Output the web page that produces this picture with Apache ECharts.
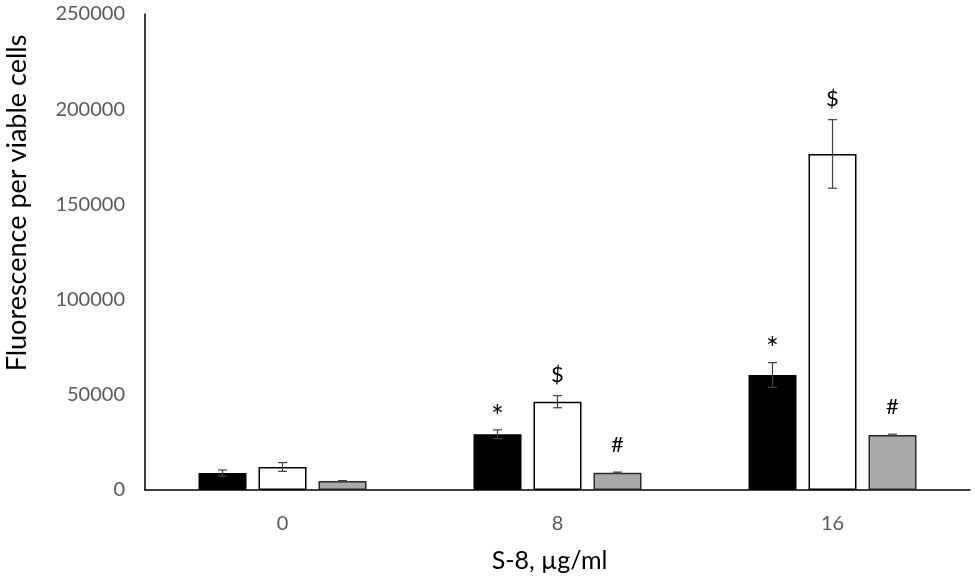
<!DOCTYPE html>
<html>
<head>
<meta charset="utf-8">
<title>S-8 fluorescence</title>
<script src="https://cdn.jsdelivr.net/npm/echarts@6/dist/echarts.min.js"></script>
<style>
	html, body { margin: 0; padding: 0; background: #fff; }
	#main { width: 975px; height: 579px; }
</style>
</head>
<body>
<div id="main"></div>
<script type="text/javascript">
	// data
	var categories = ['0', '8', '16'];
	var blackMeans = [8900, 29300, 60400];
	var blackErrs = [1600, 2300, 6500];
	var whiteMeans = [12100, 46400, 176500];
	var whiteErrs = [2300, 3200, 18000];
	var greyMeans = [4700, 9100, 28900];
	var greyErrs = [250, 300, 400];
	var blackMarks = ['', '*', '*'];
	var whiteMarks = ['', '$', '$'];
	var greyMarks = ['', '#', '#'];
	var yMax = 250000;
	var yStep = 50000;

	var FONT = 'Lato, "Open Sans", sans-serif';
	var BAR_W = 48;
	var BAR_GAP = 12;
	// how each sign is drawn above its error bar (font size, px above the cap)
	var markStyle = {
		'*': { size: 30, lift: 13 },
		'$': { size: 22, lift: 21 },
		'#': { size: 22, lift: 27 }
	};

	function barSeries(name, means, fill, border) {
		return {
			name: name,
			type: 'bar',
			data: means,
			barWidth: BAR_W,
			barGap: (BAR_GAP / BAR_W * 100) + '%',
			itemStyle: { color: fill, borderColor: border, borderWidth: 1.5 },
			emphasis: { disabled: true }
		};
	}

	// error bars + significance sign above each bar
	function errorSeries(means, errs, marks, offset) {
		return {
			type: 'custom',
			data: means.map(function (m, i) { return [i, m - errs[i], m + errs[i]]; }),
			encode: { x: 0, y: [1, 2] },
			z: 10,
			silent: true,
			renderItem: function (params, api) {
				var lo = api.coord([api.value(0), api.value(1)]);
				var hi = api.coord([api.value(0), api.value(2)]);
				var x = lo[0] + offset;
				var cap = 4.5;
				var st = { stroke: '#404040', lineWidth: 1.2 };
				var children = [
					{ type: 'line', shape: { x1: x, y1: lo[1], x2: x, y2: hi[1] }, style: st },
					{ type: 'line', shape: { x1: x - cap, y1: lo[1], x2: x + cap, y2: lo[1] }, style: st },
					{ type: 'line', shape: { x1: x - cap, y1: hi[1], x2: x + cap, y2: hi[1] }, style: st }
				];
				var mark = marks[params.dataIndex];
				if (mark) {
					var ms = markStyle[mark];
					children.push({
						type: 'text',
						style: {
							x: x, y: hi[1] - ms.lift, text: mark,
							fill: '#000', font: ms.size + 'px ' + FONT,
							textAlign: 'center', textVerticalAlign: 'middle'
						}
					});
				}
				return { type: 'group', children: children };
			}
		};
	}

	var myChart = echarts.init(document.getElementById('main'));
	var option = {
		animation: false,
		backgroundColor: '#fff',
		grid: { left: 145, right: 5, top: 14, bottom: 89, outerBoundsMode: 'none' },
		xAxis: {
			type: 'category',
			data: categories,
			name: 'S-8, \u00b5g/ml',
			nameLocation: 'middle',
			nameGap: 58,
			nameTextStyle: { color: '#000', fontSize: 25, fontFamily: FONT, padding: [0, 16, 0, 0] },
			axisLine: { lineStyle: { color: '#000', width: 1.5 } },
			axisTick: { show: false },
			axisLabel: { color: '#595959', fontSize: 20, fontFamily: FONT, margin: 24 },
			splitLine: { show: false }
		},
		yAxis: {
			type: 'value',
			min: 0,
			max: yMax,
			interval: yStep,
			name: 'Fluorescence per viable cells',
			nameLocation: 'middle',
			nameGap: 114,
			nameTextStyle: { color: '#000', fontSize: 27, fontFamily: FONT, padding: [0, 0, 0, 98] },
			axisLine: { show: true, lineStyle: { color: '#000', width: 1.5 } },
			axisTick: { show: false },
			axisLabel: {
				color: '#595959', fontSize: 20, fontFamily: FONT, margin: 20,
				formatter: function (v) { return String(v); }
			},
			splitLine: { show: false }
		},
		series: [
			barSeries('black', blackMeans, '#000', '#000'),
			barSeries('white', whiteMeans, '#fff', '#000'),
			barSeries('grey', greyMeans, '#a9a9a9', '#2b2b2b'),
			errorSeries(blackMeans, blackErrs, blackMarks, -(BAR_W + BAR_GAP)),
			errorSeries(whiteMeans, whiteErrs, whiteMarks, 0),
			errorSeries(greyMeans, greyErrs, greyMarks, BAR_W + BAR_GAP)
		]
	};
	myChart.setOption(option);
</script>
</body>
</html>
